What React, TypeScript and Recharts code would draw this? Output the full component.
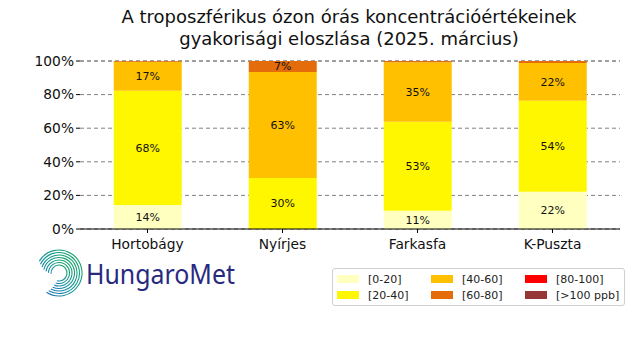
import React from "react";
import {
  BarChart,
  Bar,
  XAxis,
  YAxis,
  CartesianGrid,
  LabelList,
} from "recharts";

const stations = ["Hortobágy", "Nyírjes", "Farkasfa", "K-Puszta"];
const bin0to20 = [14.3, 0, 10.9, 22.2];
const bin20to40 = [68, 30.4, 53, 54.2];
const bin40to60 = [17.3, 63, 35.4, 22.4];
const bin60to80 = [0.4, 6.6, 0.7, 1.2];
const bin80to100 = [0, 0, 0, 0];
const binOver100 = [0, 0, 0, 0];
const yTicks = [0, 20, 40, 60, 80, 100];

const series = [
  { key: "b0", name: "[0-20]", values: bin0to20, color: "#ffffc0" },
  { key: "b1", name: "[20-40]", values: bin20to40, color: "#fff700" },
  { key: "b2", name: "[40-60]", values: bin40to60, color: "#ffc000" },
  { key: "b3", name: "[60-80]", values: bin60to80, color: "#e46c0a" },
  { key: "b4", name: "[80-100]", values: bin80to100, color: "#ff0000" },
  { key: "b5", name: "[>100 ppb]", values: binOver100, color: "#953735" },
];

const rows = stations.map((s, i) => {
  const row: Record<string, any> = { station: s };
  series.forEach((sr) => {
    row[sr.key] = sr.values[i];
  });
  return row;
});

const font = "'DejaVu Sans', sans-serif";

const pctLabel = (v: any) => (v >= 5 ? `${Math.round(v)}%` : "");

// legend laid out in 3 columns like the original
const LegendBox = () => {
  const cols = [series.slice(0, 2), series.slice(2, 4), series.slice(4, 6)];
  return (
    <div
      style={{
        position: "absolute",
        left: 332,
        top: 268,
        display: "flex",
        border: "1px solid #d0d0d0",
        borderRadius: 3,
        padding: "2px 4px 2px 4px",
        background: "#fff",
        fontFamily: font,
        fontSize: 11,
        color: "#222",
      }}
    >
      {cols.map((c, ci) => (
        <div key={ci} style={{ width: ci === 2 ? 95 : 94 }}>
          {c.map((s) => (
            <div
              key={s.key}
              style={{ display: "flex", alignItems: "center", height: 16 }}
            >
              <span
                style={{
                  width: 22,
                  height: 8,
                  background: s.color,
                  marginRight: 9,
                  display: "inline-block",
                }}
              />
              {s.name}
            </div>
          ))}
        </div>
      ))}
    </div>
  );
};

const Logo = () => {
  const cx = 59;
  const cy = 273;
  const radii = [8, 10.5, 13, 15.5, 18, 20.5, 23];
  return (
    <svg
      width={640}
      height={360}
      style={{ position: "absolute", left: 0, top: 0, pointerEvents: "none" }}
    >
      <defs>
        <linearGradient id="lg" x1="1" y1="0" x2="0" y2="1">
          <stop offset="0%" stopColor="#1aa860" />
          <stop offset="55%" stopColor="#13949a" />
          <stop offset="100%" stopColor="#2c6fc0" />
        </linearGradient>
      </defs>
      {radii.map((r, i) => {
        const a0 = (-185 + i * 6) * (Math.PI / 180);
        const a1 = (105 + i * 3) * (Math.PI / 180);
        const x0 = cx + r * Math.cos(a0);
        const y0 = cy + r * Math.sin(a0);
        const x1 = cx + r * Math.cos(a1);
        const y1 = cy + r * Math.sin(a1);
        return (
          <path
            key={i}
            d={`M ${x0} ${y0} A ${r} ${r} 0 1 1 ${x1} ${y1}`}
            fill="none"
            stroke="url(#lg)"
            strokeWidth={1.1}
          />
        );
      })}
      <text
        x={86}
        y={284}
        fontFamily="'Noto Sans', sans-serif"
        fontSize={27}
        fill="#282a80"
        textLength={149}
        lengthAdjust="spacingAndGlyphs"
      >
        HungaroMet
      </text>
    </svg>
  );
};

export default function App() {
  return (
    <div
      style={{
        position: "absolute",
        left: 0,
        top: 0,
        width: 640,
        height: 360,
        background: "#fff",
        fontFamily: font,
      }}
    >
      <div
        style={{
          position: "absolute",
          left: 49,
          width: 600,
          top: 6,
          textAlign: "center",
          fontSize: 18,
          lineHeight: "22px",
          color: "#111",
        }}
      >
        A troposzférikus ózon órás koncentrációértékeinek
        <br />
        gyakorisági eloszlása (2025. március)
      </div>
      <BarChart
        width={640}
        height={360}
        data={rows}
        margin={{ top: 61, right: 20, bottom: 101, left: 20 }}
        barCategoryGap="25%"
        style={{ position: "absolute", left: 0, top: 0 }}
      >
        <CartesianGrid
          vertical={false}
          stroke="#808080"
          strokeDasharray="4 3"
        />
        <XAxis
          dataKey="station"
          height={30}
          axisLine={{ stroke: "#000" }}
          tickLine={{ stroke: "#000" }}
          tickSize={4}
          tickMargin={6}
          tick={{ fill: "#111", fontSize: 13.8, fontFamily: font }}
        />
        <YAxis
          width={60}
          domain={[0, 100]}
          ticks={yTicks}
          tickFormatter={(v) => `${v}%`}
          axisLine={false}
          tickLine={{ stroke: "#000" }}
          tickSize={4}
          tick={{ fill: "#111", fontSize: 13.8, fontFamily: font }}
        />
        {series.map((s) => (
          <Bar
            key={s.key}
            dataKey={s.key}
            name={s.name}
            stackId="a"
            fill={s.color}
            isAnimationActive={false}
          >
            <LabelList
              dataKey={s.key}
              position="center"
              formatter={pctLabel}
              style={{ fontSize: 11, fill: "#111", fontFamily: font }}
            />
          </Bar>
        ))}
      </BarChart>
      <LegendBox />
      <Logo />
    </div>
  );
}
